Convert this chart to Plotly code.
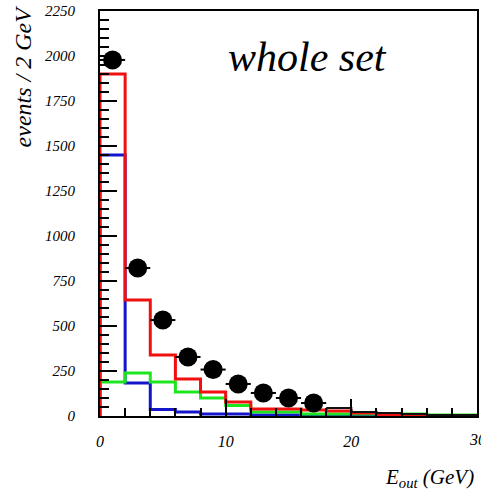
import plotly.graph_objects as go

# Bin edges (GeV), 2 GeV wide bins
bin_edges = [0, 2, 4, 6, 8, 10, 12, 14, 16, 18, 20, 22, 24, 26, 28, 30]

# Simulated components (events / 2 GeV), one value per bin
red_counts = [1900, 644, 339, 205, 133, 78, 39, 39, 33, 28, 17, 8, 5, 3, 2]
green_counts = [189, 239, 189, 133, 100, 58, 22, 22, 11, 11, 11, 11, 11, 5, 5]
blue_counts = [1450, 183, 36, 22, 11, 11, 5, 5, 3, 0, 0, 0, 0, 0, 0]

# Measured events shown as points
data_x = [1, 3, 5, 7, 9, 11, 13, 15, 17]
data_y = [1978, 822, 533, 328, 258, 178, 128, 100, 72]

# Measured tail drawn as a line beyond the last point
tail_edges = [18, 20, 22, 24, 26, 28, 30]
tail_counts = [44, 22, 17, 11, 5, 5]

y_ticks = [0, 250, 500, 750, 1000, 1250, 1500, 1750, 2000, 2250]
x_ticks = [0, 10, 20, 30]

SERIF = "Liberation Serif"


def step_xy(edges, counts, start_at_zero=True):
    xs = [edges[0]] if start_at_zero else []
    ys = [0] if start_at_zero else []
    xs += list(edges[:-1]) + [edges[-1]]
    ys += list(counts) + [counts[-1]]
    return xs, ys


fig = go.Figure()

for counts, color in [(blue_counts, "#1414c8"), (green_counts, "#1ee61e"), (red_counts, "#f01010")]:
    sx, sy = step_xy(bin_edges, counts)
    fig.add_trace(go.Scatter(x=sx, y=sy, mode="lines", line=dict(color=color, width=3, shape="hv"),
                             hoverinfo="skip", showlegend=False))

tx, ty = step_xy(tail_edges, tail_counts, start_at_zero=False)
fig.add_trace(go.Scatter(x=tx, y=ty, mode="lines", line=dict(color="#111111", width=2, shape="hv"),
                         showlegend=False))

fig.add_trace(go.Scatter(
    x=data_x, y=data_y, mode="markers",
    marker=dict(symbol="circle", size=19, color="black"),
    error_x=dict(type="constant", value=1, color="black", thickness=2, width=0),
    showlegend=False,
))

fig.add_annotation(x=16.5, y=1995, xref="x", yref="y", text="whole set", showarrow=False,
                   font=dict(family=SERIF, size=42, color="black", style="italic"))

fig.add_annotation(x=-0.205, y=1.018, xref="paper", yref="paper", text="events / 2 GeV",
                   textangle=-90, showarrow=False, xanchor="center", yanchor="top",
                   font=dict(family=SERIF, size=24, color="black", style="italic"))

fig.add_annotation(x=0.997, y=-0.153, xref="paper", yref="paper",
                   text="E<sub>out</sub> (GeV)", showarrow=False, xanchor="right", yanchor="middle",
                   font=dict(family=SERIF, size=21, color="black", style="italic"))

# The last x tick label sits on the right edge of the figure; draw it explicitly
last_tick = x_ticks[-1]
fig.add_annotation(x=last_tick, y=-0.057, xref="x", yref="paper", text=str(last_tick),
                   showarrow=False, xanchor="center", yanchor="middle",
                   font=dict(family=SERIF, size=16, color="black", style="italic"))

fig.update_xaxes(
    range=[0, 30], tickvals=x_ticks[:-1], ticktext=[str(v) for v in x_ticks[:-1]],
    ticks="inside", ticklen=17, tickwidth=1.5, tickcolor="black",
    minor=dict(dtick=2, ticks="inside", ticklen=8, tickwidth=1.5, tickcolor="black"),
    showline=True, linecolor="black", linewidth=2, mirror=True,
    showgrid=False, zeroline=False, ticklabelstandoff=10,
    tickfont=dict(family=SERIF, size=16, color="black", style="italic"),
)
fig.update_yaxes(
    range=[0, 2250], tickvals=y_ticks, ticktext=[str(v) for v in y_ticks],
    ticks="inside", ticklen=17, tickwidth=1.5, tickcolor="black",
    minor=dict(dtick=50, ticks="inside", ticklen=9, tickwidth=1.5, tickcolor="black"),
    showline=True, linecolor="black", linewidth=2, mirror=True,
    showgrid=False, zeroline=False, ticklabelstandoff=20,
    tickfont=dict(family=SERIF, size=15, color="black", style="italic"),
)

fig.update_layout(
    width=481, height=496,
    margin=dict(l=100, r=2, t=11, b=80),
    paper_bgcolor="white", plot_bgcolor="white",
)

fig.write_html("out.html")
